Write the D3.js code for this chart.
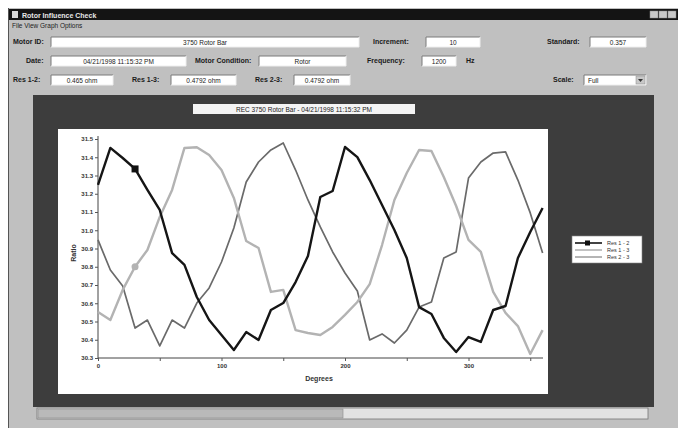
<!DOCTYPE html>
<html>
<head>
<meta charset="utf-8">
<script src="https://cdn.jsdelivr.net/npm/d3@7"></script>
<style>
  html, body { margin: 0; padding: 0; background: #ffffff; }
  svg { display: block; font-family: "Liberation Sans", Arial, sans-serif; }
</style>
</head>
<body>
<svg id="win" width="678" height="428"></svg>
<script>
// Rotation angle of the rotor (degrees), one reading every 10 degrees
const degrees = [0,10,20,30,40,50,60,70,80,90,100,110,120,130,140,150,160,170,180,
                 190,200,210,220,230,240,250,260,270,280,290,300,310,320,330,340,350,360];

// Measured ratio for each winding pair
const res12 = [31.248,31.451,31.396,31.336,31.221,31.111,30.875,30.810,30.634,30.508,
               30.426,30.344,30.442,30.399,30.563,30.601,30.716,30.859,31.182,31.215,
               31.456,31.401,31.275,31.138,31.001,30.848,30.579,30.541,30.410,30.333,
               30.415,30.388,30.563,30.585,30.848,30.990,31.122];
const res13 = [30.552,30.508,30.673,30.800,30.892,31.073,31.221,31.451,31.455,31.412,
               31.330,31.177,30.941,30.903,30.662,30.673,30.453,30.437,30.426,30.470,
               30.536,30.607,30.705,30.919,31.166,31.314,31.440,31.434,31.292,31.133,
               30.947,30.881,30.662,30.547,30.475,30.322,30.453];
const res23 = [30.947,30.782,30.695,30.464,30.508,30.366,30.508,30.464,30.601,30.684,
               30.826,31.012,31.264,31.374,31.440,31.478,31.330,31.166,31.018,30.881,
               30.766,30.667,30.399,30.432,30.382,30.453,30.579,30.607,30.848,30.881,
               31.286,31.374,31.423,31.429,31.275,31.095,30.875];

const seriesNames = ["Res 1 - 2", "Res 1 - 3", "Res 2 - 3"];
const yTicks = [30.3,30.4,30.5,30.6,30.7,30.8,30.9,31.0,31.1,31.2,31.3,31.4,31.5];
const xTicks = [0,50,100,150,200,250,300,350];
const xLabelTicks = [0,100,200,300];
const markerDegree = 30;

const svg = d3.select("#win");
const FONT = "'Liberation Sans', Arial, sans-serif";

// ---------- window chrome ----------
svg.append("rect").attr("x", 8).attr("y", 8).attr("width", 670).attr("height", 420).attr("fill", "#c0c0c0");
svg.append("line").attr("x1", 8.5).attr("y1", 8).attr("x2", 8.5).attr("y2", 428).attr("stroke", "#555").attr("stroke-width", 1);
svg.append("rect").attr("x", 9).attr("y", 9).attr("width", 669).attr("height", 11).attr("fill", "#141414");
svg.append("rect").attr("x", 12).attr("y", 11).attr("width", 6).attr("height", 7).attr("fill", "#d8d8d8");
svg.append("text").attr("x", 22).attr("y", 17.5).attr("fill", "#e8e8e8")
  .attr("font-size", 7).attr("font-weight", "bold").text("Rotor Influence Check");
[650, 659, 668].forEach(bx => {
  svg.append("rect").attr("x", bx).attr("y", 11).attr("width", 8).attr("height", 7)
    .attr("fill", "#c8c8c8").attr("stroke", "#888").attr("stroke-width", 0.5);
});
svg.append("text").attr("x", 12).attr("y", 28).attr("font-size", 6.5).attr("fill", "#222")
  .text("File   View   Graph Options");

function label(x, y, t, anchor) {
  svg.append("text").attr("x", x).attr("y", y).attr("font-size", 7).attr("font-weight", "bold")
    .attr("fill", "#1a1a1a").attr("text-anchor", anchor || "start").text(t);
}
function field(x, y, w, t, anchor) {
  const h = 10;
  svg.append("rect").attr("x", x).attr("y", y - h / 2).attr("width", w).attr("height", h).attr("fill", "#ffffff");
  svg.append("path").attr("d", `M${x},${y + h / 2}V${y - h / 2}H${x + w}`).attr("fill", "none").attr("stroke", "#7a7a7a");
  svg.append("path").attr("d", `M${x + w},${y - h / 2}V${y + h / 2}H${x}`).attr("fill", "none").attr("stroke", "#eeeeee");
  let tx = anchor === "start" ? x + 4 : x + w / 2;
  svg.append("text").attr("x", tx).attr("y", y + 2.5).attr("font-size", 6.5).attr("fill", "#222")
    .attr("text-anchor", anchor || "middle").text(t);
}

label(13, 44, "Motor ID:");
field(51, 42, 308, "3750 Rotor Bar");
label(373, 44, "Increment:");
field(426, 42, 54, "10");
label(547, 44, "Standard:");
field(590, 42, 56, "0.357");

label(26, 63, "Date:");
field(51, 61, 135, "04/21/1998   11:15:32 PM");
label(195, 63, "Motor Condition:");
field(259, 61, 87, "Rotor");
label(367, 63, "Frequency:");
field(422, 61, 34, "1200");
label(466, 63, "Hz");

label(13, 82, "Res 1-2:");
field(51, 80, 62, "0.465 ohm");
label(132, 82, "Res 1-3:");
field(171, 80, 65, "0.4792 ohm");
label(255, 82, "Res 2-3:");
field(294, 80, 56, "0.4792 ohm");
label(553, 82, "Scale:");
field(584, 80, 62, "Full", "start");
svg.append("rect").attr("x", 636).attr("y", 76).attr("width", 9).attr("height", 8)
  .attr("fill", "#c8c8c8").attr("stroke", "#888").attr("stroke-width", 0.5);
svg.append("path").attr("d", "M638,79L643,79L640.5,82Z").attr("fill", "#333");

// ---------- chart panel ----------
svg.append("rect").attr("x", 33).attr("y", 95).attr("width", 621).attr("height", 312).attr("fill", "#3d3d3d");
svg.append("rect").attr("x", 58).attr("y", 129).attr("width", 490).attr("height", 265).attr("fill", "#ffffff");

// chart title box
svg.append("rect").attr("x", 193).attr("y", 104).attr("width", 222).attr("height", 10).attr("fill", "#f4f4f4");
svg.append("text").attr("x", 304).attr("y", 111.5).attr("text-anchor", "middle").attr("font-size", 6.5)
  .attr("fill", "#222").text("REC 3750 Rotor Bar  -  04/21/1998 11:15:32 PM");

// scrollbar
svg.append("rect").attr("x", 37).attr("y", 408).attr("width", 611).attr("height", 11).attr("fill", "#e2e2e2")
  .attr("stroke", "#777").attr("stroke-width", 0.8);
svg.append("rect").attr("x", 38).attr("y", 409).attr("width", 305).attr("height", 9).attr("fill", "#b9b9b9")
  .attr("stroke", "#8a8a8a").attr("stroke-width", 0.6);

// ---------- plot ----------
const x = d3.scaleLinear().domain([0, 360]).range([98, 542.6]);
const y = d3.scaleLinear().domain([30.3, 31.5]).range([358, 139]);

const yAxis = d3.axisLeft(y).tickValues(yTicks).tickSize(3).tickPadding(2).tickFormat(d3.format(".1f"));
const gy = svg.append("g").attr("transform", "translate(98,0)").call(yAxis);
gy.select(".domain").attr("d", "M0,136V358").attr("stroke", "#444");

const xAxis = d3.axisBottom(x).tickValues(xTicks).tickSize(3).tickPadding(3)
  .tickFormat(d => xLabelTicks.includes(d) ? String(d) : "");
const gx = svg.append("g").attr("transform", "translate(0,358)").call(xAxis);
gx.select(".domain").attr("d", "M98,0H543").attr("stroke", "#444");

[gx, gy].forEach(g => {
  g.selectAll(".tick line").attr("stroke", "#555");
  g.selectAll(".tick text").attr("font-size", 6).attr("font-weight", "bold").attr("fill", "#333")
    .attr("font-family", FONT);
});

svg.append("text").attr("x", 319).attr("y", 381).attr("text-anchor", "middle").attr("font-size", 7)
  .attr("font-weight", "bold").attr("fill", "#333").text("Degrees");
svg.append("text").attr("transform", "translate(76,253) rotate(-90)").attr("text-anchor", "middle")
  .attr("font-size", 7).attr("font-weight", "bold").attr("fill", "#333").text("Ratio");

const line = d3.line().x(d => x(d[0])).y(d => y(d[1]));
const series = [
  { name: seriesNames[0], values: res12, color: "#151515", width: 2.4 },
  { name: seriesNames[1], values: res13, color: "#b3b3b3", width: 2.4 },
  { name: seriesNames[2], values: res23, color: "#6a6a6a", width: 1.7 }
];
series.slice().reverse().forEach(s => {
  svg.append("path").datum(degrees.map((d, i) => [d, s.values[i]]))
    .attr("d", line).attr("fill", "none").attr("stroke", s.color)
    .attr("stroke-width", s.width).attr("stroke-linejoin", "round");
});

// series markers
const mi = degrees.indexOf(markerDegree);
svg.append("rect").attr("x", x(markerDegree) - 3.5).attr("y", y(res12[mi]) - 3.5)
  .attr("width", 7).attr("height", 7).attr("fill", "#111");
svg.append("circle").attr("cx", x(markerDegree)).attr("cy", y(res13[mi]))
  .attr("r", 3.5).attr("fill", "#b3b3b3");

// ---------- legend ----------
svg.append("rect").attr("x", 572).attr("y", 236).attr("width", 70).attr("height", 27)
  .attr("fill", "#ffffff").attr("stroke", "#888").attr("stroke-width", 0.6);
series.forEach((s, i) => {
  const ly = 243 + i * 7;
  svg.append("line").attr("x1", 575).attr("x2", 602).attr("y1", ly).attr("y2", ly)
    .attr("stroke", s.color).attr("stroke-width", i === 2 ? 1 : 1.6);
  svg.append("text").attr("x", 607).attr("y", ly + 2).attr("font-size", 5.5).attr("fill", "#333")
    .text(s.name);
});
svg.append("rect").attr("x", 585).attr("y", 240.5).attr("width", 5).attr("height", 5).attr("fill", "#111");
</script>
</body>
</html>
